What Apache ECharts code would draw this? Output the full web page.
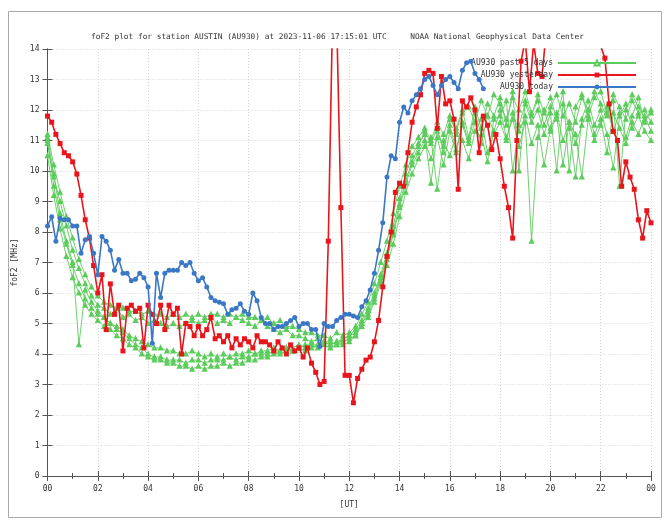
<!DOCTYPE html>
<html><head><meta charset="utf-8">
<script src="https://cdn.jsdelivr.net/npm/echarts@6/dist/echarts.min.js"></script>
<style>html,body{margin:0;padding:0;background:#fff}#c{width:666px;height:520px}</style>
</head><body><div id="c"></div>
<script>
const titleText = 'foF2 plot for station AUSTIN (AU930) at 2023-11-06 17:15:01 UTC     NOAA National Geophysical Data Center';
const xTickLabels = ['00','02','04','06','08','10','12','14','16','18','20','22','00'];
const seriesNames = ['AU930 past 5 days', 'AU930 yesterday', 'AU930 today'];
const stepTen = 1 / 6;   // 10-minute samples (hours)
const stepQuarter = 1 / 4; // 15-minute samples (hours)

// AU930 yesterday, 10-min samples from 00 UT
const yesterday = [
  11.8, 11.6, 11.2, 10.9, 10.6, 10.5,
  10.3, 9.9, 9.2, 8.4, 7.8, 6.9,
  6.0, 6.6, 4.8, 6.3, 5.3, 5.6,
  4.1, 5.5, 5.6, 5.4, 5.5, 4.2,
  5.6, 5.3, 5.0, 5.6, 4.8, 5.6,
  5.3, 5.5, 4.0, 5.0, 4.9, 4.6,
  4.9, 4.6, 4.8, 5.2, 4.5, 4.6,
  4.4, 4.6, 4.2, 4.5, 4.3, 4.5,
  4.4, 4.2, 4.6, 4.4, 4.4, 4.3,
  4.1, 4.4, 4.2, 4.0, 4.3, 4.1,
  4.2, 3.9, 4.2, 3.7, 3.4, 3.0,
  3.1, 7.7, 15.0, 15.0, 8.8, 3.3,
  3.3, 2.4, 3.2, 3.5, 3.8, 3.9,
  4.4, 5.1, 6.2, 7.2, 8.0, 9.3,
  9.6, 9.5, 10.6, 11.6, 12.1, 12.5,
  13.2, 13.3, 13.2, 11.4, 13.1, 12.2,
  12.3, 11.7, 9.4, 12.3, 12.1, 12.4,
  12.0, 10.6, 11.8, 11.5, 10.7, 11.2,
  10.4, 9.5, 8.8, 7.8, 11.0, 13.6,
  14.3, 12.6, 14.2, 13.2, 13.1, 14.6,
  15.2, 15.5, 15.0, 15.3, 15.6, 15.1,
  15.4, 15.8, 15.2, 15.0, 15.5, 14.8,
  14.1, 13.7, 12.2, 11.3, 11.0, 9.5,
  10.3, 9.8, 9.4, 8.4, 7.8, 8.7,
  8.3
];

// AU930 today, 10-min samples from 00 UT
const today = [
  8.2, 8.5, 7.7, 8.45, 8.4, 8.4,
  8.2, 8.2, 7.3, 7.75, 7.85, 7.3,
  6.6, 7.85, 7.7, 7.4, 6.75, 7.1,
  6.65, 6.65, 6.4, 6.45, 6.65, 6.5,
  6.2, 4.35, 6.65, 5.85, 6.65, 6.75,
  6.75, 6.75, 7.0, 6.9, 7.0, 6.65,
  6.4, 6.5, 6.2, 5.85, 5.75, 5.7,
  5.65, 5.3, 5.45, 5.5, 5.65, 5.4,
  5.3, 6.0, 5.75, 5.2, 5.0, 5.0,
  4.8, 4.9, 4.9, 5.0, 5.1, 5.2,
  4.9, 5.0, 5.0, 4.8, 4.8, 4.25,
  5.0, 4.9, 4.9, 5.1, 5.2, 5.3,
  5.3, 5.25, 5.2, 5.55, 5.75, 6.1,
  6.65, 7.4, 8.3, 9.8, 10.5, 10.4,
  11.6, 12.1, 11.9, 12.3, 12.5, 12.7,
  13.0, 13.1, 12.8, 12.5, 12.8, 13.0,
  13.1, 12.9, 12.7, 13.3, 13.55, 13.6,
  13.2, 13.0, 12.7
];

// AU930 past 5 days, 15-min samples from 00 UT
const pastDay1 = [
  11.2, 10.2, 9.3, 8.5, 7.8, 7.1, 6.6, 6.2, 5.9, 5.7, 5.6, 5.5,
  5.5, 5.4, 5.4, 5.3, 5.4, 5.3, 5.3, 5.2, 5.3, 5.2, 5.3, 5.2,
  5.3, 5.2, 5.3, 5.3, 5.2, 5.3, 5.2, 5.3, 5.2, 5.2, 5.1, 5.2,
  5.0, 5.1, 4.9, 4.9, 4.8, 4.7, 4.7, 4.6, 4.6, 4.5, 4.7, 4.6,
  4.7, 4.9, 5.3, 5.7, 6.3, 7.0, 7.7, 8.6, 9.5, 10.2, 10.8, 11.1,
  11.4, 11.0, 11.6, 11.2, 11.8, 11.3, 11.9, 12.1, 11.6, 12.3, 11.8, 12.5,
  12.2, 11.7, 12.4, 12.0, 12.6, 11.9, 12.3, 11.5, 12.1, 12.5, 11.8, 12.2,
  11.6, 12.4, 12.0, 12.6, 12.2, 11.8, 12.5, 12.1, 11.7, 12.3, 11.9, 12.0,
  11.6
];
const pastDay2 = [
  10.9, 9.8, 9.0, 8.2, 7.4, 6.8, 6.3, 5.9, 5.6, 5.5, 5.3, 5.5,
  5.2, 5.3, 5.1, 5.2, 5.0, 5.1, 5.0, 4.9, 5.0, 4.9, 5.0, 5.1,
  5.0, 5.1, 5.2, 5.0, 5.1, 5.0, 5.2, 5.1, 5.0, 4.9, 5.1, 4.9,
  4.8, 4.7, 4.8, 4.6, 4.6, 4.5, 4.4, 4.5, 4.4, 4.3, 4.4, 4.5,
  4.6, 4.8, 5.1, 5.5, 6.0, 6.6, 7.3, 8.2, 9.1, 9.9, 10.5, 10.9,
  11.2, 9.6, 11.3, 10.8, 11.5, 10.7, 11.6, 11.0, 11.9, 11.2, 10.3, 11.7,
  11.8, 12.3, 10.0, 11.5, 12.2, 11.6, 12.0, 11.2, 11.9, 10.0, 12.2, 11.4,
  9.8, 11.7, 12.3, 11.5, 12.0, 11.2, 10.1, 11.8, 12.2, 11.4, 11.8, 11.3,
  11.0
];
const pastDay3 = [
  11.0, 9.5, 8.4, 7.6, 6.9, 6.3, 5.8, 5.5, 5.3, 5.2, 5.0, 4.9,
  4.8, 4.6, 4.5, 4.4, 4.3, 4.2, 4.2, 4.1, 4.1, 4.0, 4.0, 4.1,
  4.0, 3.9, 4.0, 3.9, 4.0, 3.9, 4.0, 4.0, 4.1, 4.0, 4.1, 4.1,
  4.2, 4.1, 4.2, 4.2, 4.3, 4.2, 4.3, 4.3, 4.4, 4.3, 4.4, 4.4,
  4.5, 4.6, 5.0, 5.3, 5.8, 6.4, 7.1, 7.9, 8.8, 9.6, 10.2, 10.6,
  11.0, 10.4, 11.1, 10.2, 11.3, 10.6, 11.5, 10.9, 11.6, 10.9, 11.8, 11.3,
  12.0, 11.1, 11.7, 10.8, 11.6, 7.7, 11.1, 12.0, 11.3, 11.8, 10.2, 11.6,
  11.2, 9.8, 11.7, 11.0, 11.5, 12.1, 11.3, 11.9, 11.1, 11.8, 12.4, 11.6,
  12.0
];
const pastDay4 = [
  10.5, 9.2, 8.1, 7.2, 6.5, 6.0, 5.6, 5.3, 5.1, 4.9, 4.8, 4.6,
  4.5, 4.3, 4.2, 4.0, 3.9, 3.8, 3.8, 3.7, 3.7, 3.6, 3.6, 3.5,
  3.6, 3.5, 3.6, 3.6, 3.7, 3.6, 3.7, 3.7, 3.8, 3.8, 3.9, 3.9,
  4.0, 4.0, 4.1, 4.1, 4.2, 4.1, 4.2, 4.3, 4.3, 4.2, 4.3, 4.3,
  4.4, 4.6, 4.9, 5.2, 5.7, 6.3, 6.9, 7.6, 8.5, 9.3, 9.9, 10.4,
  10.8, 11.1, 9.4, 11.0, 10.5, 11.2, 11.0, 10.4, 11.3, 11.7, 10.6, 11.2,
  11.6, 11.0, 11.9, 11.3, 11.8, 10.9, 11.5, 10.2, 11.4, 11.9, 11.0, 11.6,
  10.9, 11.5, 12.0, 11.2, 11.7, 10.6, 11.9, 11.4, 10.9, 11.6, 11.2, 11.8,
  11.3
];
const pastDay5 = [
  11.1, 9.9, 8.6, 7.7, 7.0, 4.3, 6.1, 5.7, 5.4, 5.2, 5.0, 4.8,
  4.7, 4.5, 4.3, 4.2, 4.0, 3.9, 3.9, 3.8, 3.8, 3.8, 3.7, 3.8,
  3.8, 3.7, 3.8, 3.8, 3.8, 3.9, 3.8, 3.9, 3.9, 4.0, 4.0, 4.0,
  4.1, 4.1, 4.2, 4.1, 4.2, 4.3, 4.3, 4.2, 4.4, 4.4, 4.3, 4.5,
  4.6, 4.7, 5.0, 5.4, 5.9, 6.5, 7.2, 8.0, 8.9, 9.7, 10.3, 10.8,
  11.3, 10.9, 11.4, 10.6, 11.7, 11.4, 12.0, 11.1, 12.1, 11.4, 12.2, 11.8,
  12.4, 11.5, 12.6, 10.0, 12.3, 11.8, 12.5, 11.9, 12.4, 11.7, 12.6, 10.0,
  12.1, 12.5, 11.8, 12.4, 12.6, 11.9, 12.3, 9.5, 12.0, 12.5, 12.1, 11.7,
  11.9
];
const pastDays = [pastDay1, pastDay2, pastDay3, pastDay4, pastDay5];

function toPairs(arr, step) { return arr.map((v, i) => [i * step, v]); }

const FONT = 'DejaVu Sans Mono';
const GREEN = '#5ccc5c', RED = '#e8161c', BLUE = '#3a78c6';

const series = [];
pastDays.forEach(d => series.push({
  name: seriesNames[0], type: 'line', data: toPairs(d, stepQuarter),
  symbol: 'emptyTriangle', symbolSize: 3, showSymbol: true,
  lineStyle: { color: GREEN, width: 0.9 }, itemStyle: { color: GREEN, borderWidth: 0.7 },
  clip: true, z: 2
}));
series.push({
  name: seriesNames[1], type: 'line', data: toPairs(yesterday, stepTen),
  symbol: 'rect', symbolSize: 5, lineStyle: { color: RED, width: 1.6 },
  itemStyle: { color: RED }, clip: true, z: 3
});
series.push({
  name: seriesNames[2], type: 'line', data: toPairs(today, stepTen),
  symbol: 'circle', symbolSize: 5, lineStyle: { color: BLUE, width: 1.6 },
  itemStyle: { color: BLUE }, clip: true, z: 4
});

const axisLineStyle = { color: '#555', width: 1 };
const chart = echarts.init(document.getElementById('c'), null, { renderer: 'canvas' });
chart.setOption({
  animation: false,
  backgroundColor: '#fff',
  title: {
    text: titleText, left: 86, top: 28,
    textStyle: { fontFamily: FONT, fontSize: 7.8, fontWeight: 'normal', color: '#333' }
  },
  graphic: [{
    type: 'rect', shape: { x: 8.5, y: 11.5, width: 653, height: 506 },
    style: { fill: 'none', stroke: '#aaa', lineWidth: 1 }, silent: true, z: -10
  }],
  legend: {
    data: seriesNames, orient: 'vertical', align: 'right',
    right: 24, top: 54, itemWidth: 78, itemHeight: 6, itemGap: 4,
    textStyle: { fontFamily: FONT, fontSize: 8, color: '#333' }
  },
  grid: { left: 47.5, right: 15, top: 49, bottom: 44, containLabel: false },
  xAxis: [{
    type: 'value', min: 0, max: 24, interval: 2, position: 'bottom',
    name: '[UT]', nameLocation: 'middle', nameGap: 25,
    nameTextStyle: { fontFamily: FONT, fontSize: 8, color: '#333' },
    axisLine: { show: true, lineStyle: axisLineStyle },
    axisTick: { show: true, inside: true, length: 5, lineStyle: axisLineStyle },
    minorTick: { show: true, splitNumber: 2, length: 3, lineStyle: axisLineStyle },
    axisLabel: { fontFamily: FONT, fontSize: 8, color: '#333', margin: 9,
      formatter: v => xTickLabels[Math.round(v / 2)] },
    splitLine: { show: true, lineStyle: { color: '#d4d4d4', type: [1, 2], width: 1 } }
  }, {
    type: 'value', min: 0, max: 24, interval: 2, position: 'top',
    axisLine: { show: true, lineStyle: axisLineStyle },
    axisTick: { show: true, inside: true, length: 5, lineStyle: axisLineStyle },
    minorTick: { show: true, splitNumber: 2, length: 3, lineStyle: axisLineStyle },
    axisLabel: { show: false }, splitLine: { show: false }
  }],
  yAxis: [{
    type: 'value', min: 0, max: 14, interval: 1, position: 'left',
    name: 'foF2 [MHz]', nameLocation: 'middle', nameGap: 27, nameRotate: 90,
    nameTextStyle: { fontFamily: FONT, fontSize: 8, color: '#333' },
    axisLine: { show: true, lineStyle: axisLineStyle },
    axisTick: { show: true, inside: true, length: 5, lineStyle: axisLineStyle },
    axisLabel: { fontFamily: FONT, fontSize: 8, color: '#333', margin: 8 },
    splitLine: { show: true, lineStyle: { color: '#d4d4d4', type: [1, 2], width: 1 } }
  }, {
    type: 'value', min: 0, max: 14, interval: 1, position: 'right',
    axisLine: { show: true, lineStyle: axisLineStyle },
    axisTick: { show: true, inside: true, length: 5, lineStyle: axisLineStyle },
    axisLabel: { show: false }, splitLine: { show: false }
  }],
  series: series
});
</script>
</body></html>
